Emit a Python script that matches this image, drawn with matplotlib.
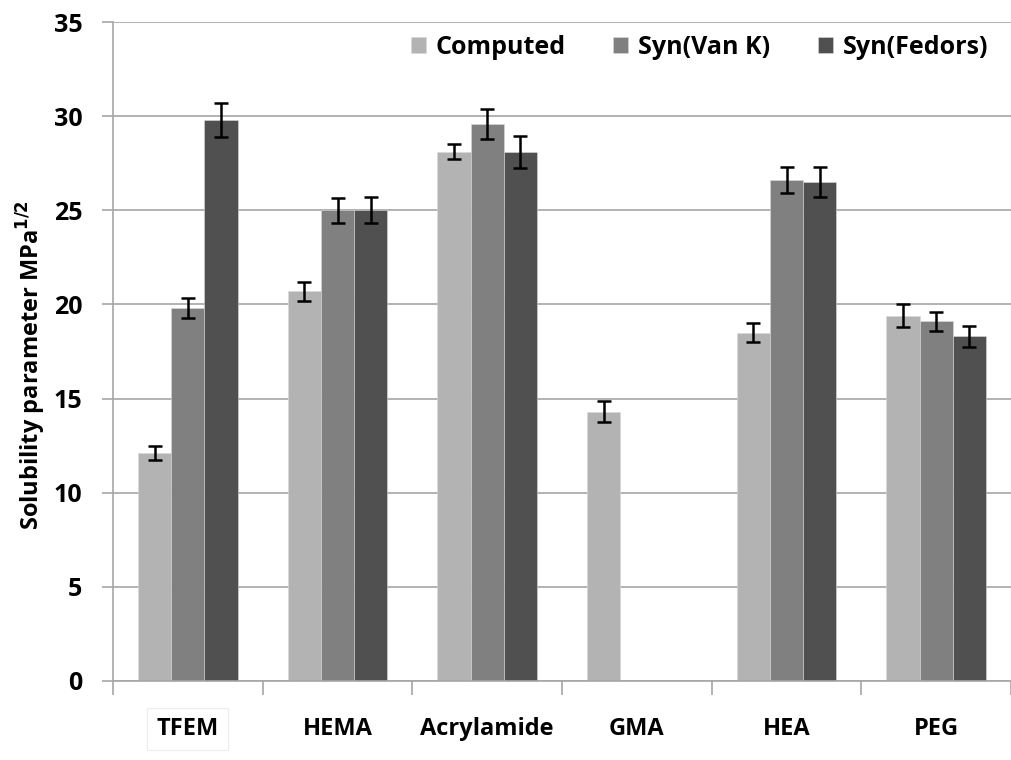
import numpy as np
import matplotlib.pyplot as plt

# ============================================================
# DATA
# ============================================================
monomers = ["TFEM", "HEMA", "Acrylamide", "GMA", "HEA", "PEG"]
series_names = ["Computed", "Syn(Van K)", "Syn(Fedors)"]

computed = [12.1, 20.7, 28.1, 14.3, 18.5, 19.4]
computed_err = [0.37, 0.5, 0.4, 0.55, 0.5, 0.6]
van_k = [19.8, 25.0, 29.6, np.nan, 26.6, 19.1]
van_k_err = [0.53, 0.66, 0.8, np.nan, 0.7, 0.5]
fedors = [29.8, 25.0, 28.1, np.nan, 26.5, 18.3]
fedors_err = [0.9, 0.7, 0.85, np.nan, 0.8, 0.55]

colors = ["#b3b3b3", "#808080", "#505050"]

# ============================================================
# PLOT
# ============================================================
plt.rcParams['font.family'] = ['Open Sans', 'DejaVu Sans']

fig = plt.figure(figsize=(10.11, 7.6), dpi=100)
ax = fig.add_axes([113/1011, 79/760, 898/1011, 659/760])

x = np.arange(len(monomers))
w = 0.222
for i, (vals, errs) in enumerate([(computed, computed_err), (van_k, van_k_err), (fedors, fedors_err)]):
  ax.bar(x + (i - 1) * w, vals, w, color=colors[i], edgecolor='#d9d9d9', linewidth=0.4,
         label=series_names[i], zorder=2)
  ax.errorbar(x + (i - 1) * w, vals, yerr=errs, fmt='none', ecolor='black',
              elinewidth=1.8, capsize=5, capthick=1.8, zorder=3)

ax.set_ylim(0, 35)
ax.set_xlim(-0.5, -0.5 + 898/151)
ax.set_yticks(range(0, 36, 5))
ax.yaxis.grid(True, color='#a6a6a6', linewidth=1.2, zorder=0)
ax.set_axisbelow(True)

for s in ['top', 'right']:
  ax.spines[s].set_visible(False)
ax.spines['left'].set_color('#a6a6a6')
ax.spines['bottom'].set_color('#a6a6a6')
ax.spines['left'].set_linewidth(1.2)
ax.spines['bottom'].set_linewidth(1.2)

ax.tick_params(axis='y', length=8, width=1.2, color='#a6a6a6', labelsize=18, pad=14)
for lbl in ax.get_yticklabels():
  lbl.set_fontweight('bold')

# category boundary ticks
ax.set_xticks(np.arange(-0.5, len(monomers) - 0.4, 1.0))
ax.set_xticklabels([])
ax.tick_params(axis='x', length=10, color='#a6a6a6', width=1.2)
for i, name in enumerate(monomers):
  t = ax.text(i, -2.55, name, ha='center', va='center', fontsize=17, fontweight='bold')
  if name == "TFEM":
    t.set_bbox(dict(boxstyle='square,pad=0.4', facecolor='none', edgecolor='#ececec', linewidth=0.8))

ax.set_ylabel('Solubility parameter MPa$^{\\mathbf{1/2}}$', fontsize=17, fontweight='bold')
ax.yaxis.set_label_coords(-0.072, 0.48)

ax.legend(loc='upper right', bbox_to_anchor=(1.0, 1.015), ncol=3, frameon=False,
          prop={'weight': 'bold', 'size': 18}, handlelength=0.6, handleheight=0.6,
          columnspacing=1.9, handletextpad=0.4)

plt.savefig('out.png', dpi=100)
